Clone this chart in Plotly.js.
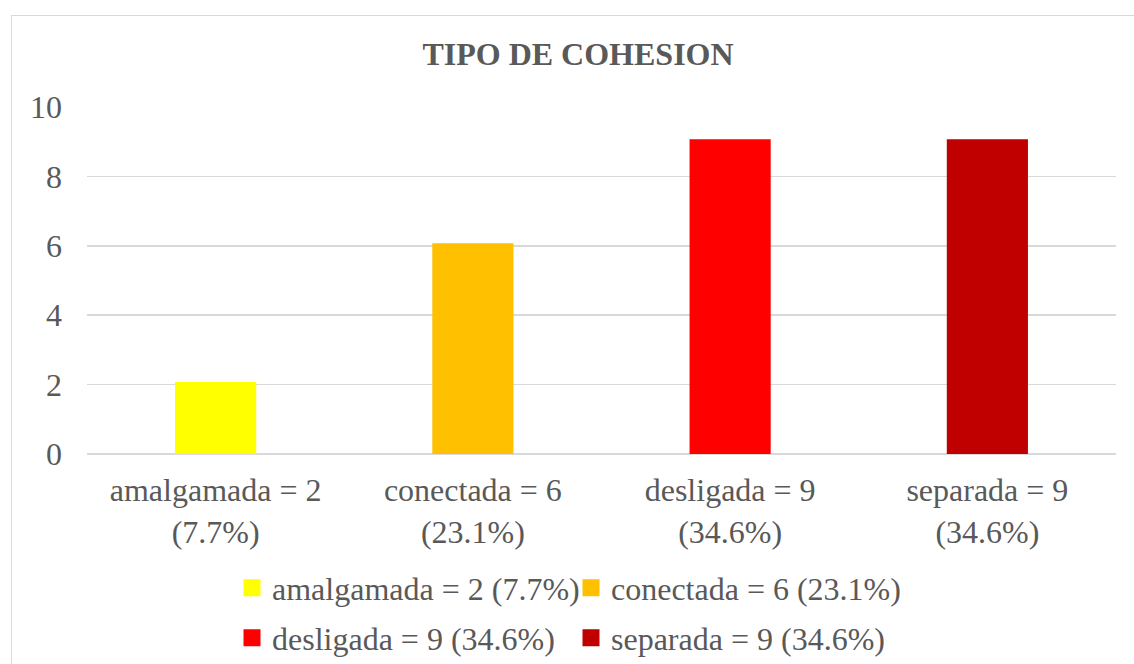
<!DOCTYPE html>
<html>
<head>
<meta charset="utf-8">
<script src="https://cdn.plot.ly/plotly-3.0.1.min.js"></script>
<style>
  html, body { margin: 0; padding: 0; background: #ffffff; overflow: hidden; }
  #wrap { position: relative; width: 1134px; height: 664px; }
  #chart { position: absolute; left: 0; top: 0; width: 1134px; height: 664px; }
  #frame { position: absolute; left: 11px; top: 15px; width: 1200px; height: 700px;
           border: 1.5px solid #d9d9d9; pointer-events: none; }
</style>
</head>
<body>
<div id="wrap">
  <div id="chart"></div>
  <div id="frame"></div>
</div>
<script>
const categories = ["amalgamada = 2<br>(7.7%)", "conectada = 6<br>(23.1%)", "desligada = 9<br>(34.6%)", "separada = 9<br>(34.6%)"];
const legendNames = ["amalgamada = 2 (7.7%)", "conectada = 6 (23.1%)", "desligada = 9 (34.6%)", "separada = 9 (34.6%)"];
const values = [2, 6, 9, 9];
const colors = ["#FFFF00", "#FFC000", "#FF0000", "#C00000"];
const yTicks = [0, 2, 4, 6, 8, 10];
const legendRows = ["legend", "legend", "legend2", "legend2"];

const FONT = "'Liberation Serif', 'Times New Roman', serif";
const GRAY = "#595959";
const FS = 32;

const traces = categories.map((c, i) => ({
  type: "bar",
  x: [c],
  y: [values[i]],
  name: legendNames[i],
  legend: legendRows[i],
  width: 0.296,
  marker: { color: colors[i], line: { color: colors[i], width: 5 } },
  hoverinfo: "skip"
}));

function legendAt(yCenterPx) {
  return {
    orientation: "h",
    x: 232 / 1134, xref: "container", xanchor: "left",
    y: 1 - yCenterPx / 664, yref: "container", yanchor: "middle",
    entrywidth: 294,
    entrywidthmode: "pixels",
    font: { family: FONT, size: FS, color: GRAY },
    bgcolor: "rgba(0,0,0,0)",
    traceorder: "normal"
  };
}

const layout = {
  width: 1134,
  height: 664,
  paper_bgcolor: "rgba(0,0,0,0)",
  plot_bgcolor: "rgba(0,0,0,0)",
  margin: { l: 87, r: 18, t: 107, b: 210 },
  barmode: "overlay",
  font: { family: FONT, size: FS, color: GRAY },
  title: {
    text: "<b>TIPO DE COHESION</b>",
    font: { family: FONT, size: FS, color: GRAY },
    x: 578 / 1134, xref: "container", xanchor: "center",
    y: 1 - 54 / 664, yref: "container", yanchor: "middle"
  },
  xaxis: {
    type: "category",
    categoryorder: "array",
    categoryarray: categories,
    showgrid: false,
    showline: false,
    zeroline: false,
    ticks: "",
    ticklabelstandoff: 14,
    tickfont: { family: FONT, size: FS, color: GRAY }
  },
  yaxis: {
    range: [0, 10],
    tickvals: yTicks,
    ticktext: yTicks.map(String),
    showgrid: true,
    gridcolor: "#d9d9d9",
    gridwidth: 1.5,
    zeroline: true,
    zerolinecolor: "#d9d9d9",
    zerolinewidth: 1.5,
    showline: false,
    ticks: "",
    ticklabelstandoff: 24,
    tickfont: { family: FONT, size: FS, color: GRAY }
  },
  showlegend: true,
  legend: legendAt(588),
  legend2: legendAt(638)
};

Plotly.newPlot("chart", traces, layout, { staticPlot: true, displayModeBar: false });
</script>
</body>
</html>
